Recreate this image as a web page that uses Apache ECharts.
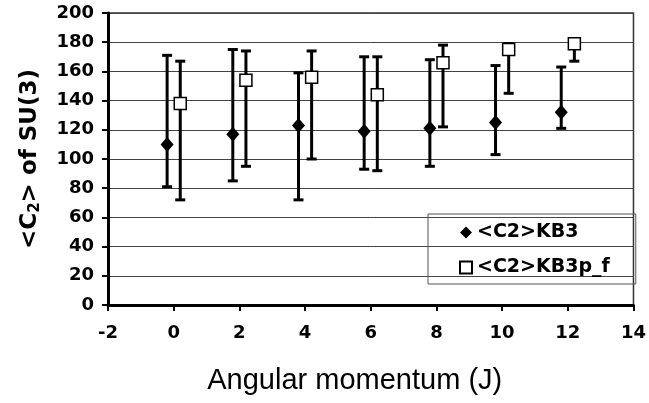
<!DOCTYPE html>
<html>
<head>
<meta charset="utf-8">
<script src="https://cdn.jsdelivr.net/npm/echarts@6/dist/echarts.min.js"></script>
<style>
  html, body { margin: 0; padding: 0; background: #fff; }
  #chart { width: 649px; height: 403px; }
</style>
</head>
<body>
<div id="chart"></div>
<script>
// angular momentum values (J)
const jValues = [0, 2, 4, 6, 8, 10, 12]
const xTicks = [-2, 0, 2, 4, 6, 8, 10, 12, 14]
const yTicks = [0, 20, 40, 60, 80, 100, 120, 140, 160, 180, 200]

// <C2>KB3
const kb3Mean = [110, 117, 123, 119, 121, 125, 132]
const kb3Low = [81, 85, 72, 93, 95, 103, 121]
const kb3High = [171, 175, 159, 170, 168, 164, 163]

// <C2>KB3p_f
const kb3pMean = [138, 154, 156, 144, 166, 175, 179]
const kb3pLow = [72, 95, 100, 92, 122, 145, 167]
const kb3pHigh = [167, 174, 174, 170, 178, 179, 181]

const shift = 0.2
const font = 'DejaVu Sans'

const chart = echarts.init(document.getElementById('chart'))

const errorBars = (name, low, high, dx) => ({
  type: 'custom',
  name: name + '_err',
  silent: true,
  z: 2,
  data: jValues.map((j, i) => [j + dx, low[i], high[i]]),
  renderItem: (params, api) => {
    const lo = api.coord([api.value(0), api.value(1)])
    const hi = api.coord([api.value(0), api.value(2)])
    const cap = 5
    const style = { stroke: '#000', lineWidth: 3 }
    return {
      type: 'group',
      children: [
        { type: 'line', shape: { x1: lo[0], y1: lo[1], x2: hi[0], y2: hi[1] }, style },
        { type: 'line', shape: { x1: lo[0] - cap, y1: lo[1], x2: lo[0] + cap, y2: lo[1] }, style },
        { type: 'line', shape: { x1: hi[0] - cap, y1: hi[1], x2: hi[0] + cap, y2: hi[1] }, style }
      ]
    }
  }
})

const option = {
  backgroundColor: '#fff',
  animation: false,
  grid: {
    left: 108,
    right: 14,
    top: 13,
    bottom: 98,
    show: true,
    borderColor: '#333',
    borderWidth: 1.5
  },
  legend: {
    orient: 'vertical',
    left: 428,
    top: 214,
    padding: [9, 26, 7, 31],
    itemGap: 16,
    itemWidth: 12,
    itemHeight: 12,
    borderColor: '#555',
    borderWidth: 1,
    backgroundColor: 'transparent',
    textStyle: { fontFamily: font, fontWeight: 'bold', fontSize: 19, color: '#000' },
    data: ['<C2>KB3', '<C2>KB3p_f']
  },
  xAxis: {
    type: 'value',
    min: xTicks[0],
    max: xTicks[xTicks.length - 1],
    interval: 2,
    name: 'Angular momentum (J)',
    nameLocation: 'middle',
    nameGap: 61,
    nameTextStyle: { fontFamily: 'Liberation Sans', fontSize: 29, color: '#000', padding: [0, 32, 0, 0] },
    axisLine: { onZero: false, lineStyle: { color: '#000', width: 3 } },
    axisTick: { inside: false, length: 6, lineStyle: { color: '#000', width: 2 } },
    axisLabel: { margin: 19, fontFamily: font, fontWeight: 'bold', fontSize: 18, color: '#000' },
    splitLine: { show: false }
  },
  yAxis: {
    type: 'value',
    min: yTicks[0],
    max: yTicks[yTicks.length - 1],
    interval: 20,
    name: '<C{sub|2}> of SU(3)',
    nameLocation: 'middle',
    nameGap: 65,
    nameTextStyle: {
      fontFamily: font,
      fontWeight: 'bold',
      fontSize: 23,
      color: '#000',
      rich: {
        sub: { fontFamily: font, fontWeight: 'bold', fontSize: 15, color: '#000', padding: [10, 0, 0, 0] }
      }
    },
    axisLine: { onZero: false, lineStyle: { color: '#000', width: 3 } },
    axisTick: { inside: false, length: 6, lineStyle: { color: '#000', width: 2 } },
    axisLabel: { margin: 14, fontFamily: font, fontWeight: 'bold', fontSize: 18, color: '#000' },
    splitLine: { show: true, lineStyle: { color: '#444', width: 1 } }
  },
  series: [
    errorBars('<C2>KB3', kb3Low, kb3High, -shift),
    errorBars('<C2>KB3p_f', kb3pLow, kb3pHigh, shift),
    {
      name: '<C2>KB3',
      type: 'scatter',
      symbol: 'diamond',
      symbolSize: [13, 15],
      z: 3,
      itemStyle: { color: '#000', opacity: 1 },
      data: jValues.map((j, i) => [j - shift, kb3Mean[i]])
    },
    {
      name: '<C2>KB3p_f',
      type: 'scatter',
      symbol: 'rect',
      symbolSize: 12,
      z: 3,
      itemStyle: { color: '#fff', borderColor: '#000', borderWidth: 1.5, opacity: 1 },
      data: jValues.map((j, i) => [j + shift, kb3pMean[i]])
    }
  ]
}

chart.setOption(option)
</script>
</body>
</html>
